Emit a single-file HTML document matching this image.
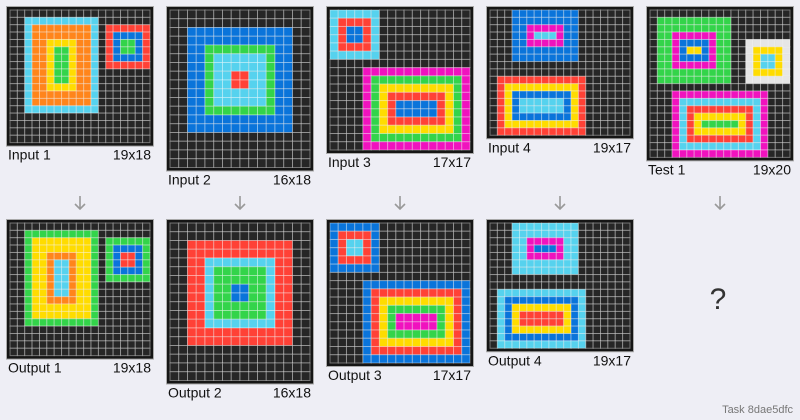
<!DOCTYPE html>
<html><head><meta charset="utf-8"><style>
body{margin:0;background:#eeeef5;width:800px;height:420px;overflow:hidden;font-family:"Liberation Sans",sans-serif}
svg{display:block}
</style></head><body>
<svg id="s" width="800" height="420">
<text x="793" y="413" text-anchor="end" font-size="11" fill="#777">Task 8dae5dfc</text>
<text x="718" y="309" text-anchor="middle" font-size="30" fill="#333">?</text>
</svg>
<script>
const C={k:'#262626',b:'#0a74da',r:'#ff4136',g:'#33d44a',y:'#ffdc00',m:'#f012be',o:'#ff851b',c:'#56d2ee',w:'#e6e6e6'};
const in1=[[2,1,11,13,'c'],[3,2,10,12,'o'],[5,4,8,10,'y'],[6,5,7,9,'g'],[13,2,18,7,'r'],[14,3,17,6,'b'],[15,4,16,5,'g']];
const out1=[[2,1,11,13,'g'],[3,2,10,12,'y'],[5,4,8,10,'o'],[6,5,7,9,'c'],[13,2,18,7,'g'],[14,3,17,6,'b'],[15,4,16,5,'r']];
const in2=[[2,2,13,13,'b'],[4,4,11,11,'g'],[5,5,10,10,'c'],[7,7,8,8,'r']];
const out2=[[2,2,13,13,'r'],[4,4,11,11,'c'],[5,5,10,10,'g'],[7,7,8,8,'b']];
const in3=[[0,0,5,5,'c'],[1,1,4,4,'r'],[2,2,3,3,'b'],[4,7,16,16,'m'],[5,8,15,15,'g'],[6,9,14,14,'y'],[7,10,13,13,'r'],[8,11,12,12,'b']];
const out3=[[0,0,5,5,'b'],[1,1,4,4,'r'],[2,2,3,3,'c'],[4,7,16,16,'b'],[5,8,15,15,'r'],[6,9,14,14,'y'],[7,10,13,13,'g'],[8,11,12,12,'m']];
const in4=[[3,0,11,6,'b'],[5,2,9,4,'m'],[6,3,8,3,'c'],[1,9,12,16,'r'],[2,10,11,15,'y'],[3,11,10,14,'b'],[4,12,9,13,'c']];
const out4=[[3,0,11,6,'c'],[5,2,9,4,'m'],[6,3,8,3,'b'],[1,9,12,16,'c'],[2,10,11,15,'b'],[3,11,10,14,'y'],[4,12,9,13,'r']];
const test1=[[1,1,10,9,'g'],[3,3,8,7,'m'],[4,4,7,6,'b'],[5,5,6,5,'y'],[13,4,18,9,'w'],[14,5,17,8,'y'],[15,6,16,7,'c'],[3,11,15,19,'m'],[4,12,14,18,'c'],[5,13,13,17,'r'],[6,14,12,16,'y'],[7,15,11,15,'g']];
const panels=[
 {n:'input-1',label:'Input 1',cols:19,rows:18,rects:in1,col:0,row:0},
 {n:'output-1',label:'Output 1',cols:19,rows:18,rects:out1,col:0,row:1},
 {n:'input-2',label:'Input 2',cols:16,rows:18,rects:in2,col:1,row:0},
 {n:'output-2',label:'Output 2',cols:16,rows:18,rects:out2,col:1,row:1},
 {n:'input-3',label:'Input 3',cols:17,rows:17,rects:in3,col:2,row:0},
 {n:'output-3',label:'Output 3',cols:17,rows:17,rects:out3,col:2,row:1},
 {n:'input-4',label:'Input 4',cols:19,rows:17,rects:in4,col:3,row:0},
 {n:'output-4',label:'Output 4',cols:19,rows:17,rects:out4,col:3,row:1},
 {n:'test-1',label:'Test 1',cols:19,rows:20,rects:test1,col:4,row:0}
];
const s=document.getElementById('s');const NS='http://www.w3.org/2000/svg';
function mk(t,a,p){const e=document.createElementNS(NS,t);for(const k in a)e.setAttribute(k,a[k]);(p||s).appendChild(e);return e;}
panels.forEach(p=>{
 const cs=140/p.cols,x0=p.col*160+10,y0=p.row?223:10,w=140,h=cs*p.rows;
 const g=mk('g',{});
 
 
 mk('rect',{x:x0-3.5,y:y0-3.5,width:w+7,height:h+7,fill:'#151515',stroke:'#aaa','stroke-width':1},g);
 const grid=[];for(let r=0;r<p.rows;r++){grid.push(new Array(p.cols).fill('k'));}
 p.rects.forEach(([c0,r0,c1,r1,col])=>{for(let r=r0;r<=r1;r++)for(let c=c0;c<=c1;c++)if(grid[r])grid[r][c]=col;});
 for(let r=0;r<p.rows;r++)for(let c=0;c<p.cols;c++){
  const e=mk('rect',{x:x0+c*cs,y:y0+r*cs,width:cs,height:cs,fill:C[grid[r][c]],stroke:'rgba(255,255,255,0.38)','stroke-width':1},g);
 }
 const ty=y0+h+17;
 const l=mk('text',{x:x0-2,y:ty,'font-size':14,fill:'#111'});l.textContent=p.label;
 
 
 const d=mk('text',{x:x0+w+1,y:ty,'font-size':14,fill:'#111','text-anchor':'end'});d.textContent=p.cols+'x'+p.rows;
 
 
 if(p.row===0){
  const ax=x0+70;
  const a=mk('path',{d:`M${ax} 196 V209 M${ax-5} 204 L${ax} 209 L${ax+5} 204`,stroke:'#999','stroke-width':1.6,fill:'none'});
  
  
 }
});
</script>
</body></html>
